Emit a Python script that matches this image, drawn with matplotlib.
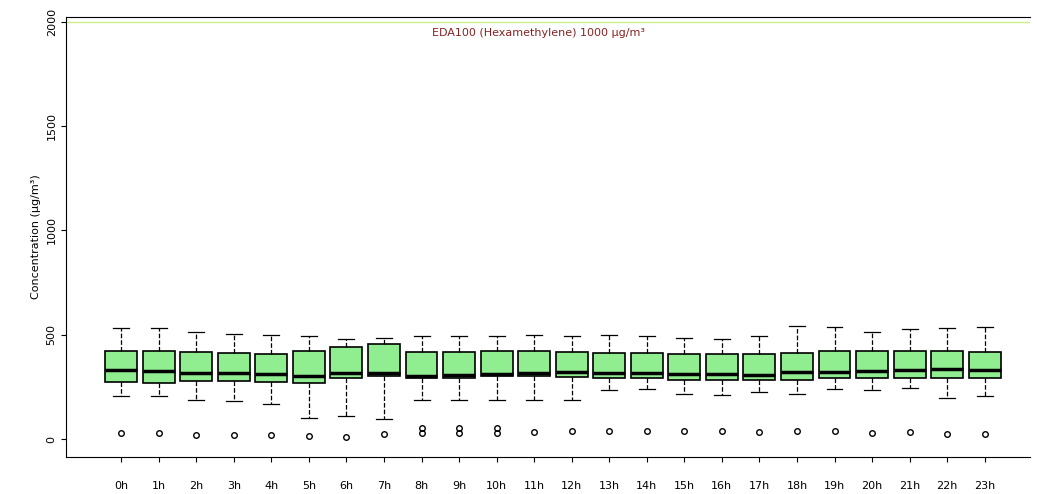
import matplotlib
matplotlib.use("Agg")
import matplotlib.pyplot as plt

hours = [f"{h}h" for h in range(24)]
q1 = [275, 270, 280, 280, 272, 270, 290, 300, 290, 290, 300, 300, 295, 290, 290, 285, 285, 285, 285, 290, 290, 290, 290, 290]
med = [330, 325, 315, 315, 310, 300, 315, 315, 300, 305, 310, 315, 320, 315, 315, 310, 310, 305, 320, 320, 325, 330, 335, 330]
q3 = [420, 420, 415, 413, 408, 420, 440, 455, 418, 418, 420, 420, 415, 410, 410, 405, 405, 408, 412, 420, 420, 420, 420, 415]
whislo = [205, 205, 185, 180, 170, 100, 110, 95, 185, 185, 185, 185, 185, 235, 240, 215, 210, 225, 215, 240, 235, 245, 195, 205]
whishi = [530, 530, 515, 505, 497, 493, 480, 485, 495, 495, 495, 500, 495, 500, 495, 485, 480, 495, 540, 535, 515, 525, 530, 535]
outl = [[30], [30], [20], [20], [20], [15], [10], [25], [30, 55], [30, 55], [30, 55], [35], [40], [40], [40], [40], [40], [35], [40], [40], [30], [35], [25], [25]]

stats = []
for i, h in enumerate(hours):
    stats.append(dict(label=h, q1=q1[i], med=med[i], q3=q3[i],
                      whislo=whislo[i], whishi=whishi[i], fliers=outl[i]))

fig, ax = plt.subplots(figsize=(10.37, 4.94), dpi=100)
fig.subplots_adjust(left=0.064, right=0.993, top=0.965, bottom=0.075)

bp = ax.bxp(stats, patch_artist=True, widths=0.85, showfliers=True,
            boxprops=dict(facecolor="#90ee90", edgecolor="black", linewidth=1.2),
            medianprops=dict(color="black", linewidth=2.5),
            whiskerprops=dict(linestyle="--", color="black", linewidth=0.9),
            capprops=dict(color="black", linewidth=0.9),
            flierprops=dict(marker="o", markerfacecolor="none",
                            markeredgecolor="black", markersize=4))

ax.axhline(2000, color="#ccee88", linewidth=1)
ax.text(0.49, 0.975, "EDA100 (Hexamethylene) 1000 µg/m³", transform=ax.transAxes,
        ha="center", va="top", fontsize=8, color="#882222")

ax.set_ylim(-86, 2021)
ax.set_xlim(-0.46, 25.2)
ax.set_yticks([0, 500, 1000, 1500, 2000])
ax.set_yticklabels(["0", "500", "1000", "1500", "2000"], rotation=90, va="center", fontsize=8)
ax.tick_params(axis="x", labelsize=8, pad=14)
ax.set_ylabel("Concentration (µg/m³)", fontsize=8)
ax.spines["right"].set_visible(False)

fig.savefig("out.png")
